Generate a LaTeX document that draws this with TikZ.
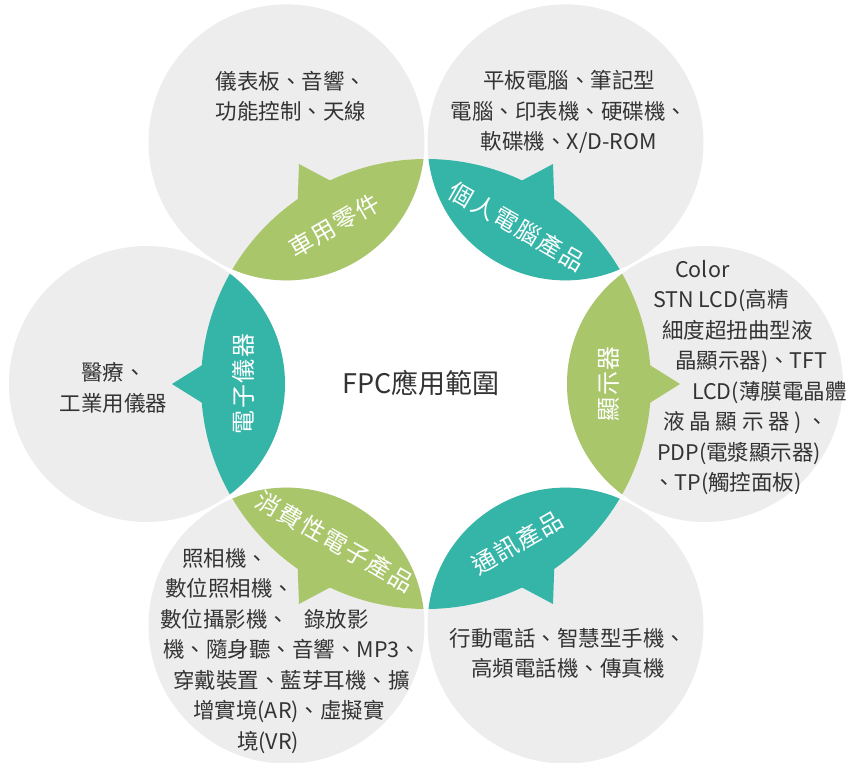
\documentclass[tikz,border=0pt]{standalone}
\usepackage{fontspec}
\setmainfont{Noto Sans CJK TC}
\newfontfamily\leaffont[LetterSpace=6]{Noto Sans CJK TC}
\usepackage{xcolor}
\usepackage{tikz}

\definecolor{bubblegray}{HTML}{EDEDED}
\definecolor{leafgreen}{HTML}{A9C66A}
\definecolor{leafteal}{HTML}{35B4A8}
\definecolor{textgray}{HTML}{333333}

\begin{document}
\begin{tikzpicture}[x=1pt, y=1pt,
    bubble/.style={circle, fill=bubblegray, minimum size=276pt, inner sep=0pt},
    leaflabel/.style={text=white, inner sep=0pt, font=\leaffont\fontsize{24}{24}\selectfont},
    infotext/.style={text=textgray, inner sep=0pt, font=\fontsize{21.5}{30.5}\selectfont}]
                \useasboundingbox (-426,-378) rectangle (424,384);

                \node[bubble] (car) at (120:279) {};
                \node[bubble] (pc) at (60:279) {};
                \node[bubble] (display) at (0:279) {};
                \node[bubble] (comm) at (-60:279) {};
                \node[bubble] (consumer) at (240:279) {};
                \node[bubble] (instrument) at (180:279) {};

                \begin{scope}
                    \clip (0,0) circle (225);
                    \fill[leafgreen] (120:279) circle (138);
                    \fill[leafteal] (60:279) circle (138);
                    \fill[leafgreen] (0:279) circle (138);
                    \fill[leafteal] (-60:279) circle (138);
                    \fill[leafgreen] (240:279) circle (138);
                    \fill[leafteal] (180:279) circle (138);
                \end{scope}

                \fill[leafgreen] (125.15:222.9) -- (120:254) -- (114.85:222.9) -- cycle;
                \fill[leafteal] (65.15:222.9) -- (60:254) -- (54.85:222.9) -- cycle;
                \fill[leafgreen] (5.15:222.9) -- (0:254) -- (-5.15:222.9) -- cycle;
                \fill[leafteal] (-54.85:222.9) -- (-60:254) -- (-65.15:222.9) -- cycle;
                \fill[leafgreen] (245.15:222.9) -- (240:254) -- (234.85:222.9) -- cycle;
                \fill[leafteal] (185.15:222.9) -- (180:254) -- (174.85:222.9) -- cycle;

                \node[leaflabel, rotate=30] (carleaf) at (120:183) {車用零件};
                \node[leaflabel, rotate=-30] (pcleaf) at (60:182) {個人電腦產品};
                \node[leaflabel, rotate=90] (displayleaf) at (0:183) {顯示器};
                \node[leaflabel, rotate=30] (commleaf) at (-60:183) {通訊產品};
                \node[leaflabel, rotate=-30] (consumerleaf) at (240:182) {消費性電子產品};
                \node[leaflabel, rotate=90] (instrumentleaf) at (180:183) {電子儀器};

                \node[text=textgray, font=\fontsize{27}{27}\selectfont] (title) at (-5,1) {FPC應用範圍};

                \node[infotext, align=center] (cartext) at (-135,288) {儀表板、音響、\\功能控制、天線};
                \node[infotext, align=center] (pctext) at (143,272) {平板電腦、筆記型\\電腦、印表機、硬碟機、\\軟碟機、X/D-ROM};
                \node[infotext, align=left, anchor=west] (displaytext) at (227,6.5) {\hspace*{22pt}Color\\STN LCD(高精\\\hspace*{9pt}細度超扭曲型液\\\hspace*{22pt}晶顯示器)、TFT\\\hspace*{39pt}LCD(薄膜電晶體\\\hspace*{10pt}液 晶 顯 示 器 ) 、\\\hspace*{4pt}PDP(電漿顯示器)\\、TP(觸控面板)};
                \node[infotext, align=center] (commtext) at (142,-269.5) {行動電話、智慧型手機、\\高頻電話機、傳真機};
                \node[infotext, align=left, anchor=west] (consumertext) at (-266,-267) {\hspace*{22pt}照相機、\\\hspace*{5pt}數位照相機、\\數位攝影機、\hspace{0.7em}錄放影\\\hspace*{3pt}機、隨身聽、音響、MP3、\\\hspace*{13pt}穿戴裝置、藍芽耳機、擴\\\hspace*{33pt}增實境(AR)、虛擬實\\\hspace*{77pt}境(VR)};
                \node[infotext, align=center] (instrumenttext) at (-312.5,-4) {醫療、\\工業用儀器};
            \end{tikzpicture}
\end{document}
